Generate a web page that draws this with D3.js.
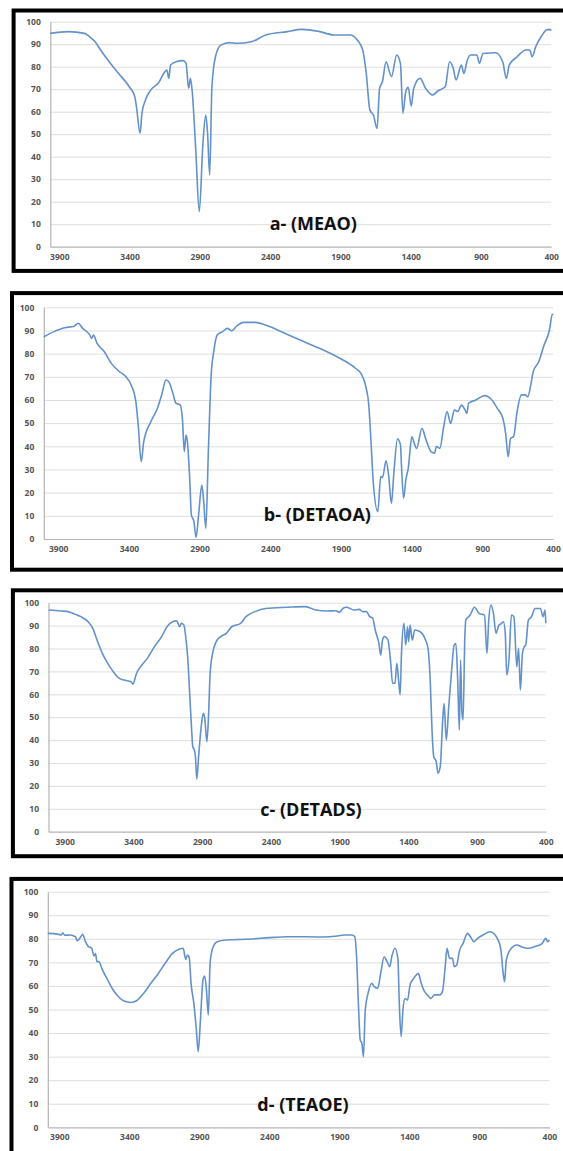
<!DOCTYPE html>
<html>
<head>
<meta charset="utf-8">
<script src="https://cdn.jsdelivr.net/npm/d3@7"></script>
<style>
  body { margin: 0; background: #fff; }
  svg { display: block; }
  .tick text { font-family: "Open Sans", sans-serif; font-weight: 700; font-size: 8.5px; fill: #555; }
</style>
</head>
<body>
<div id="chart"></div>
<script>
var svgWidth = 563;
var svgHeight = 1151;

// axis labels
var xTicks = [3900, 3400, 2900, 2400, 1900, 1400, 900, 400];
var yTicks = [0, 10, 20, 30, 40, 50, 60, 70, 80, 90, 100];
var titles = ["a- (MEAO)", "b- (DETAOA)", "c- (DETADS)", "d- (TEAOE)"];

// a- (MEAO): wavenumber (cm-1) and transmittance (%)
var waveA = [3964, 3836, 3721, 3683, 3645, 3606, 3555, 3478, 3402, 3363, 3351, 3325, 3312, 3287, 3249, 3197,
  3134, 3121, 3108, 3070, 3019, 2998, 2980, 2967, 2955, 2929, 2904, 2878, 2858, 2845, 2830, 2814, 2789, 2750,
  2687, 2635, 2533, 2431, 2278, 2176, 2048, 1946, 1831, 1780, 1741, 1716, 1690, 1665, 1639, 1621, 1601, 1575,
  1537, 1499, 1473, 1455, 1435, 1417, 1396, 1378, 1333, 1294, 1243, 1205, 1154, 1123, 1097, 1077, 1039, 1021,
  1000, 975, 929, 911, 885, 796, 745, 719, 699, 643, 579, 553, 536, 510, 472, 434, 408, 400];
var transA = [94.8, 95.6, 94.8, 93.3, 91.1, 87.4, 83, 77, 71.1, 66.7, 62.2, 50.4, 59.3, 65.2, 69.6, 72.6,
  78.5, 74.8, 80.7, 82.2, 82.7, 81.5, 70.4, 74.8, 69.6, 43, 15.6, 45.9, 58.5, 50.4, 31.9, 71.1, 84.4, 89.6,
  90.7, 90.4, 91.1, 94.1, 95.6, 96.6, 95.6, 94.1, 94.1, 91.9, 87.4, 77, 60.7, 58.5, 52.6, 70.4, 73.3, 82.2,
  75.6, 85.2, 81.5, 59.3, 68.9, 70.8, 62.5, 70.4, 74.8, 70.4, 67.4, 69.3, 71.1, 82.2, 79.3, 74.1, 80.7, 77,
  82.2, 85.2, 85.2, 81.5, 85.9, 86.2, 82.2, 74.8, 80.7, 84.4, 87.4, 87.4, 84.4, 88.9, 93.3, 96.3, 96.6, 96];

// b- (DETAOA)
var waveB = [4002, 3930, 3854, 3791, 3758, 3727, 3676, 3664, 3651, 3626, 3575, 3524, 3473, 3422, 3384, 3351,
  3334, 3313, 3295, 3245, 3194, 3168, 3138, 3118, 3092, 3067, 3036, 3021, 3008, 2996, 2986, 2970, 2958, 2940,
  2925, 2907, 2884, 2871, 2856, 2838, 2818, 2800, 2775, 2737, 2704, 2673, 2635, 2584, 2508, 2406, 2279, 2152,
  2025, 1898, 1797, 1759, 1721, 1703, 1690, 1670, 1639, 1619, 1606, 1581, 1563, 1543, 1525, 1500, 1479, 1472,
  1457, 1441, 1424, 1398, 1385, 1365, 1327, 1302, 1263, 1238, 1225, 1200, 1175, 1149, 1124, 1098, 1073, 1048,
  1022, 1010, 997, 946, 883, 832, 794, 755, 735, 717, 700, 679, 654, 623, 598, 578, 557, 540, 501, 463, 425, 405, 400];
var transB = [87.3, 89.5, 91.2, 91.7, 93.1, 90.9, 88, 86.6, 88, 84.5, 80.9, 75.8, 72.5, 70.1, 66.5, 59.3,
  49.2, 33.4, 42, 50.6, 57.1, 62.2, 68.6, 67.9, 63.6, 58.6, 57.8, 51.4, 37.7, 44.9, 42, 26.2, 10.4, 7.5,
  0.7, 10.4, 23.3, 16.1, 4.6, 37.7, 70.8, 80.9, 88, 89.5, 90.9, 89.9, 92.1, 93.5, 93.5, 91.7, 88.3, 84.9,
  81.6, 77.7, 73.7, 71.5, 65, 57.8, 44.9, 23.3, 11.8, 26.9, 26.5, 33.7, 27.6, 15.4, 29.1, 43.2, 40.6, 31.9,
  17.6, 25.5, 30.5, 44.2, 42, 39.1, 47.8, 43.5, 37.7, 37, 39.9, 39.1, 47.8, 55, 49.9, 55.7, 55, 57.8,
  55.7, 54.2, 58.6, 60, 61.9, 60, 56.4, 52.1, 45.6, 35.5, 43.5, 44.2, 55, 62.2, 62.2, 61.4, 66.5, 72.2, 76.5, 83.7, 90.2, 97, 96.7];

// c- (DETADS)
var waveC = [4018, 3926, 3874, 3822, 3782, 3730, 3696, 3665, 3626, 3587, 3547, 3508, 3469, 3417, 3404, 3378,
  3338, 3299, 3247, 3195, 3156, 3116, 3085, 3064, 3051, 3033, 3017, 3004, 2991, 2978, 2968, 2957, 2949, 2939,
  2926, 2907, 2892, 2881, 2866, 2855, 2842, 2824, 2798, 2764, 2725, 2685, 2620, 2581, 2516, 2437, 2281, 2150,
  2072, 1993, 1928, 1902, 1876, 1850, 1797, 1758, 1732, 1706, 1680, 1659, 1641, 1614, 1601, 1588, 1575, 1549,
  1528, 1515, 1497, 1484, 1471, 1460, 1450, 1432, 1419, 1406, 1398, 1387, 1372, 1353, 1314, 1275, 1257, 1241,
  1228, 1215, 1197, 1184, 1168, 1150, 1140, 1124, 1106, 1085, 1067, 1054, 1041, 1029, 1020, 1010, 1002, 989,
  982, 950, 919, 885, 846, 828, 815, 799, 781, 762, 742, 721, 708, 695, 684, 668, 650, 632, 611, 598, 585, 570,
  557, 546, 527, 504, 478, 439, 420, 405, 400];
var transC = [96.8, 96.4, 96.1, 94.9, 93.9, 91.7, 88.8, 83.7, 77.9, 73.5, 69.9, 67.2, 66.2, 65.5, 64.5, 69.1,
  72.8, 75.7, 80.8, 85.2, 89.5, 91.7, 92.1, 89.5, 91, 90.2, 83.7, 75, 60.4, 45.9, 37.1, 35.7, 32.8, 22.9,
  32.8, 45.9, 51.7, 49.5, 39.3, 48.8, 69.1, 77.9, 83, 85.2, 86.6, 89.5, 91, 93.9, 96.1, 97.5, 98, 98.3,
  96.8, 96.4, 96.5, 95.8, 97.5, 98, 96.8, 97.1, 96.1, 96.1, 93.9, 93.2, 88.1, 82.2, 77.1, 83.7, 85.2, 84,
  73.5, 64.8, 64.8, 73.5, 66.2, 59.7, 77.9, 91, 81.5, 89.5, 83, 90.2, 83.7, 88.1, 87.3, 83.7, 80.1, 66.2,
  44.4, 32.8, 30.6, 25.5, 28.4, 48.8, 56, 40, 54.6, 70.6, 81.5, 82.2, 66.2, 44.4, 75, 51.7, 48.8, 85.2,
  92.4, 94.6, 98, 95.3, 94.6, 77.9, 92.4, 99, 95.3, 86.6, 90.2, 91, 91.7, 86.6, 68.4, 75, 94.6, 93.9, 72, 80.1, 61.9, 77.9,
  80.8, 81.5, 92.4, 93.9, 97.5, 97.5, 93.9, 96.8, 91];

// d- (TEAOE)
var waveD = [3982, 3913, 3887, 3874, 3862, 3823, 3785, 3772, 3754, 3733, 3713, 3695, 3669, 3651, 3641, 3631,
  3618, 3592, 3554, 3515, 3477, 3438, 3387, 3349, 3297, 3246, 3195, 3144, 3092, 3041, 3015, 2997, 2985, 2972,
  2959, 2939, 2921, 2908, 2892, 2874, 2862, 2849, 2836, 2823, 2805, 2772, 2708, 2528, 2400, 2272, 2016, 1913,
  1862, 1810, 1790, 1777, 1764, 1751, 1739, 1728, 1715, 1695, 1669, 1651, 1626, 1605, 1580, 1559, 1541, 1523,
  1503, 1482, 1472, 1459, 1446, 1431, 1413, 1395, 1369, 1336, 1318, 1298, 1272, 1246, 1221, 1182, 1164, 1144,
  1131, 1113, 1092, 1080, 1062, 1041, 1016, 985, 964, 939, 913, 874, 823, 772, 746, 733, 720, 708, 682, 631,
  592, 554, 503, 451, 426, 413, 400];
var transD = [82.3, 82, 81.6, 82.6, 81.5, 81.6, 80.9, 79.2, 80.2, 81.9, 78.8, 76.9, 76, 72.7, 73.8, 70.3,
  70.3, 66.8, 62.5, 58.3, 55.4, 53.6, 53, 53.7, 56.9, 61.1, 65.1, 69.6, 73.8, 75.7, 76, 71.3, 73.1, 72.1,
  61.1, 52.6, 41.3, 32.1, 45.5, 62.5, 64.2, 58.3, 47.7, 69.6, 76, 78.8, 79.5, 79.9, 80.5, 80.9, 80.8, 81.2,
  81.6, 81.6, 80.9, 72.4, 52.6, 37.1, 35.6, 30, 49.8, 56.9, 61.1, 59.7, 59, 65.3, 72.4, 70.3, 68.2, 73.1,
  76, 71.7, 52.6, 38.5, 49.8, 54.7, 54, 60.4, 63.2, 65.3, 61.8, 58.3, 56.2, 54.7, 56.2, 56.2, 57.6, 68.2,
  76, 71.7, 71.7, 68.2, 68.9, 75.2, 78.1, 82.3, 80.9, 78.8, 80.2, 81.6, 83, 80.2, 75.2, 66.8, 61.8, 71, 75.2, 77.4,
  76.4, 76, 76.7, 78.1, 80.2, 78.8, 79.5];

// panel layout
var panels = [
  { wave: waveA, trans: transA, title: titles[0], frameX: 13.6, frameY: 10.5, frameH: 260.4,
    left: 50.3, right: 551.2, top: 21.7, bottom: 246.7, start: 3964, titleX: 313.3, titleY: 224 },
  { wave: waveB, trans: transB, title: titles[1], frameX: 12, frameY: 293.1, frameH: 276.6,
    left: 43.8, right: 553, top: 307.3, bottom: 539, start: 4002, titleX: 317.4, titleY: 514.3 },
  { wave: waveC, trans: transC, title: titles[2], frameX: 12.9, frameY: 590.3, frameH: 265.9,
    left: 48.5, right: 545.8, top: 602.7, bottom: 831.7, start: 4018, titleX: 311, titleY: 809.3 },
  { wave: waveD, trans: transD, title: titles[3], frameX: 11.5, frameY: 878.9, frameH: 320,
    left: 47.8, right: 549.4, top: 891.7, bottom: 1127.3, start: 3982, titleX: 303, titleY: 1104.3 }
];

var svg = d3.select("#chart")
    .append("svg")
    .attr("width", svgWidth)
    .attr("height", svgHeight);

panels.forEach(function(p) {
    var g = svg.append("g");

    // thick black frame, cut off on the right
    g.append("rect")
        .attr("x", p.frameX)
        .attr("y", p.frameY)
        .attr("width", 640)
        .attr("height", p.frameH)
        .attr("fill", "#fff")
        .attr("stroke", "#000")
        .attr("stroke-width", 4);

    var xScale = d3.scaleLinear().domain([p.start, 400]).range([p.left, p.right]);
    var yScale = d3.scaleLinear().domain([0, 100]).range([p.bottom, p.top]);

    // gridlines
    g.append("g")
        .attr("transform", `translate(${p.left}, 0)`)
        .call(d3.axisLeft(yScale).tickValues(yTicks.slice(1)).tickSize(-(p.right - p.left)).tickFormat(""))
        .call(s => s.select(".domain").remove())
        .selectAll("line")
        .attr("stroke", "#dedede")
        .attr("stroke-width", 1);

    // y axis
    var yAxis = g.append("g")
        .attr("transform", `translate(${p.left}, 0)`)
        .call(d3.axisLeft(yScale).tickValues(yTicks).tickSize(0).tickPadding(9.5).tickFormat(d3.format("d")));
    yAxis.select(".domain").attr("stroke", "#b4b4b4").attr("stroke-width", 1.2);

    // x axis
    var xAxis = g.append("g")
        .attr("transform", `translate(0, ${p.bottom})`)
        .call(d3.axisBottom(xScale).tickValues(xTicks).tickSize(0).tickPadding(7).tickFormat(d3.format("d")));
    xAxis.select(".domain").attr("stroke", "#b4b4b4").attr("stroke-width", 1.2);

    // spectrum
    var points = p.wave.map((w, i) => [w, p.trans[i]]);
    g.append("path")
        .datum(points)
        .attr("fill", "none")
        .attr("stroke", "#6392cb")
        .attr("stroke-width", 1.6)
        .attr("stroke-linejoin", "round")
        .attr("d", d3.line().curve(d3.curveMonotoneX).x(d => xScale(d[0])).y(d => yScale(d[1])));

    // panel title
    g.append("text")
        .attr("x", p.titleX)
        .attr("y", p.titleY)
        .attr("dy", "0.35em")
        .attr("text-anchor", "middle")
        .attr("font-family", "Open Sans, sans-serif")
        .attr("font-weight", 700)
        .attr("font-size", "18px")
        .attr("fill", "#111")
        .text(p.title);
});
</script>
</body>
</html>
